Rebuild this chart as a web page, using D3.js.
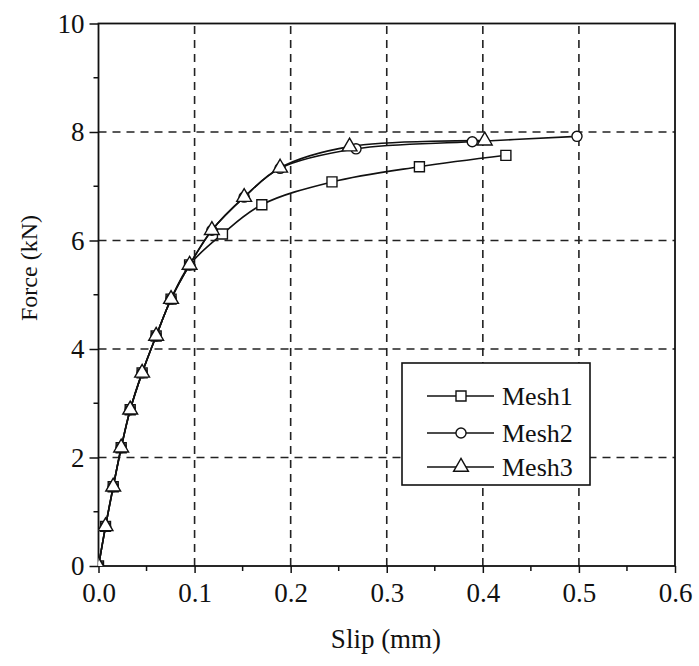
<!DOCTYPE html>
<html><head><meta charset="utf-8">
<script src="https://cdn.jsdelivr.net/npm/d3@7"></script>
<style>body{margin:0;background:#fff}svg{display:block}</style>
</head><body>
<script>
const seriesNames = ["Mesh1", "Mesh2", "Mesh3"];
const mesh1X = [0, 0.0073, 0.0153, 0.0236, 0.033, 0.0454, 0.060, 0.0755, 0.0948, 0.129, 0.170, 0.243, 0.334, 0.424];
const mesh1Y = [0, 0.73, 1.46, 2.18, 2.88, 3.56, 4.24, 4.92, 5.55, 6.12, 6.66, 7.08, 7.36, 7.57];
const mesh2X = [0, 0.0073, 0.0153, 0.0236, 0.033, 0.0454, 0.060, 0.0755, 0.0948, 0.118, 0.1516, 0.189, 0.268, 0.389, 0.498];
const mesh2Y = [0, 0.73, 1.46, 2.18, 2.88, 3.56, 4.24, 4.92, 5.55, 6.19, 6.80, 7.33, 7.69, 7.82, 7.92];
const mesh3X = [0, 0.0073, 0.0153, 0.0236, 0.033, 0.0454, 0.060, 0.0755, 0.0948, 0.118, 0.1516, 0.189, 0.2613, 0.402];
const mesh3Y = [0, 0.73, 1.46, 2.18, 2.88, 3.56, 4.24, 4.92, 5.55, 6.19, 6.80, 7.34, 7.73, 7.84];
const xTicks = [0, 0.1, 0.2, 0.3, 0.4, 0.5, 0.6];
const yTicks = [0, 2, 4, 6, 8, 10];
const xMinor = [0.05, 0.15, 0.25, 0.35, 0.45, 0.55];
const yMinor = [1, 3, 5, 7, 9];

const W = 699, H = 666;
const L = 98.5, R = 675, T = 23.5, B = 566;
const font = "Times New Roman";

const svg = d3.select("body").append("svg").attr("width", W).attr("height", H);
const x = d3.scaleLinear().domain([0, 0.6]).range([L, R]);
const y = d3.scaleLinear().domain([0, 10]).range([B, T]);

// grid
const grid = svg.append("g").attr("stroke", "#222").attr("stroke-width", 1.6).attr("stroke-dasharray", "8,6");
grid.selectAll("line.gx").data(xTicks.filter(v => v > 0 && v < 0.6)).join("line")
  .attr("class", "gx").attr("x1", d => x(d)).attr("x2", d => x(d)).attr("y1", B).attr("y2", T);
grid.selectAll("line.gy").data(yTicks.filter(v => v > 0 && v < 10)).join("line")
  .attr("class", "gy").attr("y1", d => y(d)).attr("y2", d => y(d)).attr("x1", L).attr("x2", R);

// axes
const xAxis = d3.axisBottom(x).tickValues(xTicks).tickFormat(d3.format(".1f")).tickSize(7).tickPadding(9);
const yAxis = d3.axisLeft(y).tickValues(yTicks).tickFormat(d3.format("d")).tickSize(9).tickPadding(5);
const gx = svg.append("g").attr("transform", `translate(0,${B})`).call(xAxis);
const gy = svg.append("g").attr("transform", `translate(${L},0)`).call(yAxis);
[gx, gy].forEach(g => {
  g.attr("font-family", font).attr("font-size", 27);
  g.select(".domain").remove();
  g.selectAll(".tick line").attr("stroke", "#111").attr("stroke-width", 1.5);
  g.selectAll(".tick text").attr("fill", "#111");
});
gx.selectAll(".tick text").attr("dy", "0.75em");
svg.append("g").selectAll("line").data(xMinor).join("line")
  .attr("x1", d => x(d)).attr("x2", d => x(d)).attr("y1", B).attr("y2", B + 5)
  .attr("stroke", "#111").attr("stroke-width", 1.5);
svg.append("g").selectAll("line").data(yMinor).join("line")
  .attr("y1", d => y(d)).attr("y2", d => y(d)).attr("x1", L).attr("x2", L - 5)
  .attr("stroke", "#111").attr("stroke-width", 1.5);

// frame
svg.append("rect").attr("x", L).attr("y", T).attr("width", R - L).attr("height", B - T)
  .attr("fill", "none").attr("stroke", "#111").attr("stroke-width", 1.8);

// titles
svg.append("text").attr("x", 386).attr("y", 648).attr("text-anchor", "middle")
  .attr("font-family", font).attr("font-size", 27).attr("fill", "#111").text("Slip (mm)");
svg.append("text").attr("transform", `translate(37,268) rotate(-90)`).attr("text-anchor", "middle")
  .attr("font-family", font).attr("font-size", 24).attr("fill", "#111").text("Force (kN)");

// clip
svg.append("defs").append("clipPath").attr("id", "clip").append("rect")
  .attr("x", L).attr("y", T).attr("width", R - L).attr("height", B - T);

const series = [
  {name: seriesNames[0], xs: mesh1X, ys: mesh1Y, sym: d3.symbolSquare, size: 100},
  {name: seriesNames[1], xs: mesh2X, ys: mesh2Y, sym: d3.symbolCircle, size: 80},
  {name: seriesNames[2], xs: mesh3X, ys: mesh3Y, sym: d3.symbolTriangle, size: 95}
];
const line = d3.line().x(d => x(d[0])).y(d => y(d[1])).curve(d3.curveCatmullRom.alpha(0.5));
const plot = svg.append("g").attr("clip-path", "url(#clip)");
series.forEach(s => {
  const pts = s.xs.map((v, i) => [v, s.ys[i]]);
  plot.append("path").datum(pts).attr("d", line).attr("fill", "none").attr("stroke", "#111").attr("stroke-width", 1.6);
});
series.forEach(s => {
  const pts = s.xs.map((v, i) => [v, s.ys[i]]);
  plot.append("g").selectAll("path").data(pts).join("path")
    .attr("d", d3.symbol().type(s.sym).size(s.size))
    .attr("transform", d => `translate(${x(d[0])},${y(d[1])})`)
    .attr("fill", "#fff").attr("stroke", "#111").attr("stroke-width", 1.4);
});

// legend
const lg = svg.append("g");
lg.append("rect").attr("x", 402).attr("y", 363).attr("width", 188).attr("height", 122)
  .attr("fill", "#fff").attr("stroke", "#111").attr("stroke-width", 1.6);
const rows = [396, 433, 467];
series.forEach((s, i) => {
  const g = lg.append("g").attr("transform", `translate(0,${rows[i]})`);
  g.append("line").attr("x1", 427).attr("x2", 494).attr("y1", 0).attr("y2", 0).attr("stroke", "#111").attr("stroke-width", 1.6);
  g.append("path").attr("d", d3.symbol().type(s.sym).size(s.size)).attr("transform", "translate(461,0)")
    .attr("fill", "#fff").attr("stroke", "#111").attr("stroke-width", 1.4);
  g.append("text").attr("x", 502).attr("y", 0).attr("dy", "0.33em")
    .attr("font-family", font).attr("font-size", 26).attr("fill", "#111").text(s.name);
});
</script>
</body></html>
